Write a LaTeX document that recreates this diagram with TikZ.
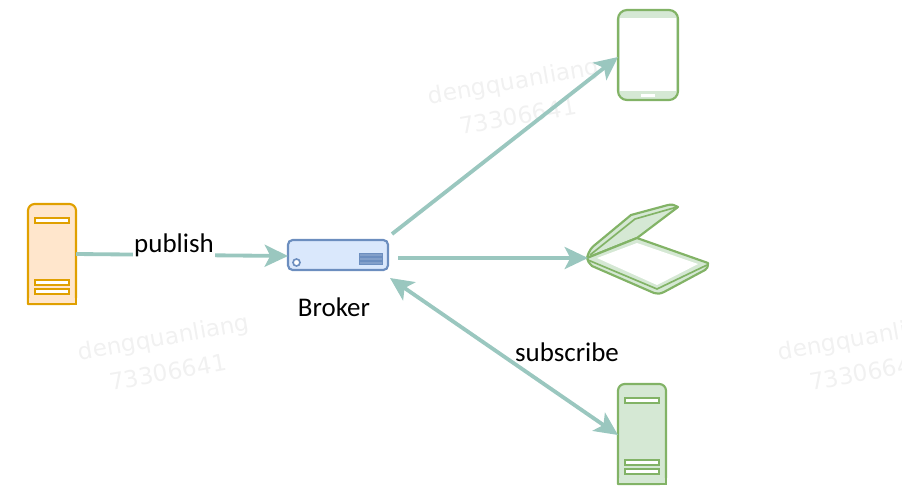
\documentclass[tikz,border=0pt]{standalone}
\usepackage{fontspec}
\setmainfont{Carlito}
\newfontfamily\markfont{DejaVu Sans}
\usetikzlibrary{positioning}
\usetikzlibrary{arrows.meta}

\definecolor{linkcol}{HTML}{9AC7BF}
\definecolor{orangeline}{HTML}{E0A000}
\definecolor{orangefill}{HTML}{FFE6CC}
\definecolor{greenline}{HTML}{82B366}
\definecolor{greenfill}{HTML}{D5E8D4}
\definecolor{blueline}{HTML}{6C8EBF}
\definecolor{bluefill}{HTML}{DAE8FC}
\definecolor{markcol}{HTML}{F1F1F1}

\tikzset{
    linktip/.tip={Stealth[length=0.7cm, width=0.66cm, inset=0.17cm]},
    link/.style={draw=linkcol, line width=0.115cm, -linktip},
    label/.style={inner sep=0pt, font=\fontsize{23}{27}\selectfont},
    watermark/.style={text=markcol, rotate=10, inner sep=0pt, font=\markfont\fontsize{19.8}{23}\selectfont},
    servernode/.style={minimum width=1.44cm, minimum height=3cm, inner sep=0pt},
    icon/.style={line width=0.065cm, line join=round},
}

\begin{document}
\begin{tikzpicture}[x=0.03cm, y=-0.03cm]
    \useasboundingbox (0,0) rectangle (902,496);

    \foreach \dx/\dy/\mk in {0/0/a, 350/-256/b, 700/0/c} {
        \node[watermark] (name\mk) at (164+\dx,339+\dy) {dengquanliang};
        \node[watermark] (num\mk) at (168+\dx,372+\dy) {73306641};
    }

    % servers
    \foreach \nm/\cx/\cy/\lc/\fc in {pub/52/254/orangeline/orangefill, sub/642/434/greenline/greenfill} {
        \node[servernode] (\nm) at (\cx,\cy) {};
        \begin{scope}[shift={(\cx,\cy)}]
            \draw[icon, draw=\lc, fill=\fc, rounded corners=0.2cm] (-24,50) -- (-24,-50) -- (24,-50) -- (24,50) [sharp corners] -- (-24,50) -- cycle;
            \fill[draw=\lc, fill=\fc] (-24,44) rectangle (24,50);
            \draw[icon, draw=\lc, fill=\fc] (-24,44) -- (-24,50) -- (24,50) -- (24,44);
            \foreach \sy in {-33.5, 28.5, 37.5} {
                \draw[draw=\lc, line width=0.05cm, fill=white] (-17,\sy-2.5) rectangle (17,\sy+2.5);
            }
        \end{scope}
    }

    % broker
    \node[draw=blueline, fill=bluefill, line width=0.065cm, rounded corners=0.14cm, minimum width=3cm, minimum height=0.9cm, inner sep=0pt] (broker) at (338,255) {};
    \node[label, below=0.8cm of broker, xshift=-0.12cm] (brokertext) {Broker};
    \draw[draw=blueline, line width=0.05cm, fill=white] (296.5,262.5) circle (3.5);
    \foreach \sy in {254.5, 258.5, 262.5} {
        \draw[draw=blueline, fill=blueline!85, line width=0.02cm] (359.5,\sy-1.5) rectangle (382.5,\sy+1.5);
    }

    % phone
    \node[draw=greenline, fill=greenfill, line width=0.065cm, rounded corners=0.27cm, minimum width=1.8cm, minimum height=2.7cm, inner sep=0pt] (phone) at (648,55) {};
    \fill[white] (620,18) rectangle (676,91);
    \fill[white] (641,94) rectangle (655,97);

    % scanner
    \node[minimum width=3.6cm, minimum height=2.67cm, inner sep=0pt] (scanner) at (648,250) {};
    \draw[icon, draw=greenline, fill=greenfill] (587,258) .. controls (589,250) and (592,247) .. (596,244) -- (631,215) -- (668,205) .. controls (672,204) and (675,205) .. (678,207) -- (637,238) -- cycle;
    \draw[draw=greenline, line width=0.05cm] (590,255) -- (635,219) -- (677,207);
    \draw[icon, draw=greenline, fill=greenfill] (587,258) -- (637,238) -- (708,263) .. controls (708,267) and (707,269) .. (705,270) -- (664,292) .. controls (660,294) and (657,294) .. (654,293) -- (592,266) .. controls (589,264) and (588,261) .. (587,258) -- cycle;
    \fill[white] (597,258) -- (637,243) -- (698,264) -- (657,285) -- cycle;
    \draw[draw=greenline, line width=0.05cm] (588,260) -- (657,289) -- (707,265);

    % links
    \coordinate (pubend) at (288,256);
    \coordinate (phonefrom) at (392,234);
    \coordinate (phoneend) at (618,57);
    \coordinate (scanfrom) at (398,258);
    \coordinate (scanend) at (588,258);
    \coordinate (subfrom) at (390,278);
    \coordinate (subend) at (618,435);

    \draw[link] (pub.east) -- (pubend);
    \draw[link] (phonefrom) -- (phoneend);
    \draw[link] (scanfrom) -- (scanend);
    \draw[link, linktip-linktip] (subfrom) -- (subend);

    \node[label, fill=white, inner xsep=1pt, inner ysep=2pt] (publishtext) at (174,245) {publish};
    \node[label] (subscribetext) at (567,352) {subscribe};
\end{tikzpicture}
\end{document}
